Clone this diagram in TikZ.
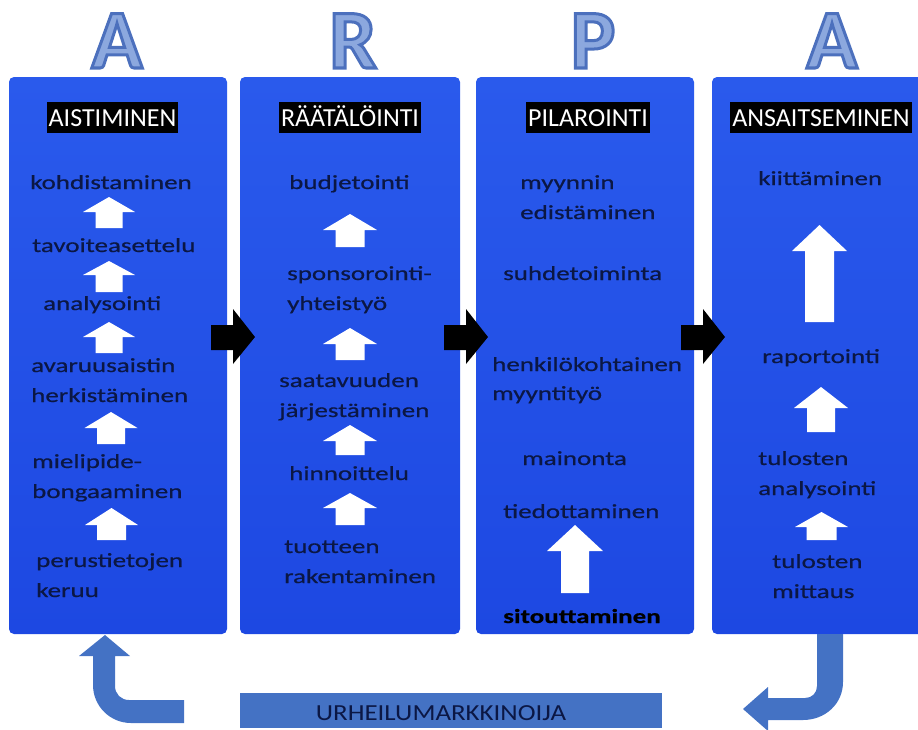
\documentclass[tikz,border=0pt]{standalone}
\usepackage{fontspec}
\setmainfont{Carlito}
\newfontfamily\bodyfont[FakeStretch=1.35,FakeBold=0.6]{Carlito}
\newfontfamily\headfont{Carlito}
\newfontfamily\barfont[FakeStretch=1.17]{Carlito}
\newfontfamily\bigfill{Carlito Bold}
\definecolor{txt}{HTML}{0B1744}
\definecolor{arrowblue}{HTML}{4472C4}
\definecolor{lettfill}{HTML}{8CA8DE}
\definecolor{pantop}{HTML}{2A5AEC}
\definecolor{panmid}{HTML}{3568F2}
\definecolor{panbot}{HTML}{1D48E2}
\newcommand\mywup[7]{% name, cx, tip, base, bottom, head half, shaft half
  \fill[white] (#2-#7,#5) -- (#2-#7,#4) -- (#2-#6,#4) -- (#2,#3) -- (#2+#6,#4) -- (#2+#7,#4) -- (#2+#7,#5) -- cycle;
  \coordinate (#1) at (#2,#3);}
\newcommand\myblk[1]{% left end of shaft
  \fill[black] (#1,325) -- (#1+22,325) -- (#1+22,309) -- (#1+44,337) -- (#1+22,364) -- (#1+22,350) -- (#1,350) -- cycle;}
\newcommand\mybig[1]{%
  {\bigfill\color{lettfill}\special{pdf:literal direct 2 Tr 3 w 0.30 0.44 0.74 RG}#1\special{pdf:literal direct 0 Tr 0 w}}}
\begin{document}
\begin{tikzpicture}[x=1pt,y=-1pt,
  itemtxt/.style={anchor=base west, inner sep=0pt, text=txt, font=\bodyfont\fontsize{20}{30}\selectfont},
  headtxt/.style={anchor=base, fill=black, text=white, inner xsep=2pt, inner ysep=0pt, text height=24pt, text depth=7pt, font=\headfont\fontsize{26}{30}\selectfont},
  panelbox/.style={top color=pantop, middle color=panmid, bottom color=panbot, rounded corners=5pt},
  bigtxt/.style={anchor=base, inner sep=0pt, font=\fontsize{84}{90}\selectfont}]
\useasboundingbox (0,0) rectangle (918,729);
\clip (0,0) rectangle (918,729);

% panels
\shade[panelbox] (9,77) rectangle (227,634);
\shade[panelbox] (240,77) rectangle (460,634);
\shade[panelbox] (476,77) rectangle (694,634);
\shade[panelbox] (712,77) rectangle (935,634);

% big letters
\node[bigtxt] (la) at (117,68) {\mybig{A}};
\node[bigtxt] (lr) at (353,68) {\mybig{R}};
\node[bigtxt] (lp) at (593,68) {\mybig{P}};
\node[bigtxt] (lz) at (832,68) {\mybig{A}};

% headers
\node[headtxt] (h1) at (112.5,126) {AISTIMINEN};
\node[headtxt] (h2) at (350,126) {RÄÄTÄLÖINTI};
\node[headtxt] (h3) at (588,126) {PILAROINTI};
\node[headtxt] (h4) at (821,126) {ANSAITSEMINEN};

% black arrows between panels
\myblk{211}
\myblk{444}
\myblk{681}

% panel 1
\node[itemtxt] (a1) at (30,189) {kohdistaminen};
\node[itemtxt] (a2) at (32,252) {tavoiteasettelu};
\node[itemtxt] (a3) at (43,310) {analysointi};
\node[itemtxt] (a4) at (31,372) {avaruusaistin};
\node[itemtxt] (a4b) at (31,402) {herkistäminen};
\node[itemtxt] (a5) at (32,468) {mielipide-};
\node[itemtxt] (a5b) at (32,498) {bongaaminen};
\node[itemtxt] (a6) at (36,567) {perustietojen};
\node[itemtxt] (a6b) at (36,597) {keruu};
\mywup{u11}{109}{197}{212}{228}{26}{13.5}
\mywup{u12}{109}{261}{275}{292}{26}{13.5}
\mywup{u13}{109}{322}{337}{353}{26}{13.5}
\mywup{u14}{111}{412}{428}{444}{26.5}{14}
\mywup{u15}{111.5}{508}{525}{540}{26.5}{14.5}

% panel 2
\node[itemtxt] (b1) at (289,189) {budjetointi};
\node[itemtxt] (b2) at (287,280) {sponsorointi-};
\node[itemtxt] (b2b) at (287,310) {yhteistyö};
\node[itemtxt] (b3) at (279,387) {saatavuuden};
\node[itemtxt] (b3b) at (279,417) {järjestäminen};
\node[itemtxt] (b4) at (289,480) {hinnoittelu};
\node[itemtxt] (b5) at (284,553) {tuotteen};
\node[itemtxt] (b5b) at (284,583) {rakentaminen};
\mywup{u21}{350}{214}{230}{247}{27}{14.5}
\mywup{u22}{350}{328}{344}{360}{27}{14.5}
\mywup{u23}{350}{425}{441}{455}{27}{14.5}
\mywup{u24}{350}{493}{508}{525}{27}{14.5}

% panel 3
\node[itemtxt] (c1) at (520,189) {myynnin};
\node[itemtxt] (c1b) at (520,219) {edistäminen};
\node[itemtxt] (c2) at (503,280) {suhdetoiminta};
\node[itemtxt] (c3) at (492,371) {henkilökohtainen};
\node[itemtxt] (c3b) at (492,400) {myyntityö};
\node[itemtxt] (c4) at (522,465) {mainonta};
\node[itemtxt] (c5) at (503,518) {tiedottaminen};
\node[itemtxt, text=black] (c6) at (503,623) {\bfseries sitouttaminen};
\mywup{u31}{575}{525}{551}{593}{28}{14}

% panel 4
\node[itemtxt] (d1) at (758,185) {kiittäminen};
\node[itemtxt] (d2) at (762,363) {raportointi};
\node[itemtxt] (d3) at (758,465) {tulosten};
\node[itemtxt] (d3b) at (758,495) {analysointi};
\node[itemtxt] (d4) at (772,568) {tulosten};
\node[itemtxt] (d4b) at (772,598) {mittaus};
\mywup{u41}{819.5}{225}{251}{322}{27.5}{14.5}
\mywup{u42}{821}{387}{408}{432}{27}{14}
\mywup{u43}{821.5}{512}{527}{540}{26.5}{15}

% bottom bar
\fill[arrowblue] (240,693) rectangle (662,728);
\node[anchor=base, inner sep=0pt, text=txt, font=\barfont\fontsize{23}{28}\selectfont] (bar) at (441,720) {URHEILUMARKKINOIJA};

% curved arrows
\fill[arrowblue] (184,700) -- (184,723) -- (131,723) .. controls (110,723) and (93,706) .. (93,685) -- (93,656) -- (79,656) -- (105,635) -- (130,656) -- (115,656) -- (115,686) .. controls (115,694) and (121,700) .. (129,700) -- cycle;
\fill[arrowblue] (817,634) -- (843,634) -- (843,682) .. controls (843,704) and (825,720) .. (803,720) -- (768,720) -- (768,731) -- (743,709) -- (768,687) -- (768,698) -- (805,698) .. controls (812,698) and (817,693) .. (817,686) -- cycle;
\end{tikzpicture}
\end{document}
